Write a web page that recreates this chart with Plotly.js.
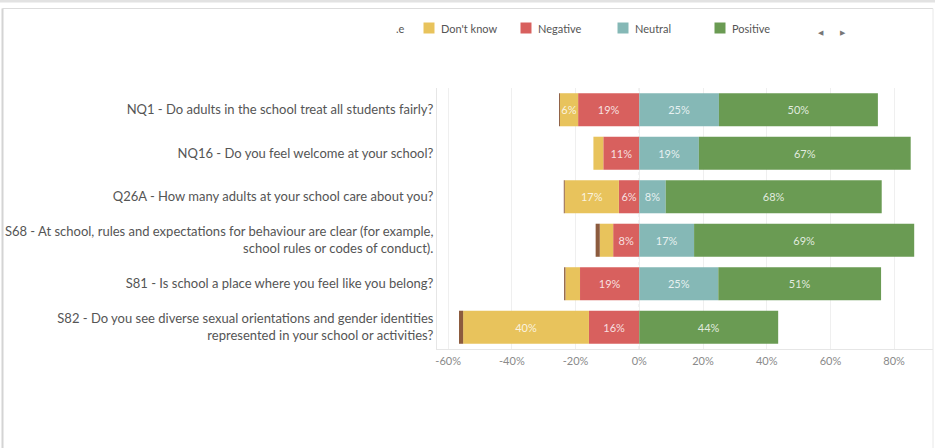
<!DOCTYPE html>
<html><head><meta charset="utf-8">
<script src="https://cdn.plot.ly/plotly-3.0.1.min.js"></script>
<style>html,body{margin:0;padding:0;background:#fff;} #chart{width:935px;height:448px;}</style>
</head><body><div id="chart"></div>
<script>
// ---- data ----
const categories = [
  "NQ1 - Do adults in the school treat all students fairly?",
  "NQ16 - Do you feel welcome at your school?",
  "Q26A - How many adults at your school care about you?",
  "S68 - At school, rules and expectations for behaviour are clear (for example,<br>school rules or codes of conduct).",
  "S81 - Is school a place where you feel like you belong?",
  "S82 - Do you see diverse sexual orientations and gender identities<br>represented in your school or activities?"
];
const notApplicable = [0.3, 0, 0.3, 1.3, 0.4, 1.3];
const dontKnow      = [5.7, 3.1, 17.0, 4.2, 4.6, 39.5];
const negative      = [19.2, 11.3, 6.4, 8.2, 18.6, 15.8];
const neutral       = [25.0, 18.7, 8.3, 17.2, 24.8, 0];
const positive      = [49.9, 66.5, 67.8, 69.1, 51.1, 43.6];
const xTickValues = [-60, -40, -20, 0, 20, 40, 60, 80];
const xTickLabels = ["-60%", "-40%", "-20%", "0%", "20%", "40%", "60%", "80%"];
const legendNames  = ["Don't know", "Negative", "Neutral", "Positive"];
const legendColors = ["#E8C35C", "#D8605E", "#85B8B6", "#6A9B53"];
const brownColor = "#8C5B3E";

// ---- helpers ----
const L = 437, R = 933, T = 88, B = 349;
const px = v => (v - L) / (R - L);
const py = v => (B - v) / (B - T);
const lab = arr => arr.map(v => Math.round(v) >= 6 ? Math.round(v) + "%" : "");
const neg = arr => arr.map(v => -v);

function trace(name, vals, color, signed) {
  return {
    type: "bar", orientation: "h", name: name,
    y: categories, x: signed ? neg(vals) : vals,
    marker: {color: color, line: {width: 0}},
    text: lab(vals), textposition: "inside", insidetextanchor: "middle",
    textangle: 0, constraintext: "none",
    textfont: {family: "Lato, sans-serif", size: 11, color: "rgba(255,255,255,0.82)"},
    hoverinfo: "skip", showlegend: false
  };
}

const data = [
  trace("Negative", negative, legendColors[1], true),
  trace("Don't know", dontKnow, legendColors[0], true),
  trace("Not applicable", notApplicable, brownColor, true),
  trace("Neutral", neutral, legendColors[2], false),
  trace("Positive", positive, legendColors[3], false)
];

const shapes = [
  {type: "rect", xref: "paper", yref: "paper", x0: px(0), x1: px(935), y0: py(0), y1: py(2.5), fillcolor: "#e2e2e2", line: {width: 0}, layer: "below"},
  {type: "line", xref: "paper", yref: "paper", x0: px(2.5), x1: px(933), y0: py(8.5), y1: py(8.5), line: {color: "#dcdcdc", width: 1}},
  {type: "line", xref: "paper", yref: "paper", x0: px(2.5), x1: px(2.5), y0: py(8.5), y1: py(448), line: {color: "#d4d4d4", width: 2}},
  {type: "line", xref: "paper", yref: "paper", x0: px(933), x1: px(933), y0: py(8.5), y1: py(448), line: {color: "#e8e8e8", width: 1}},
  {type: "line", xref: "x", yref: "paper", x0: 0, x1: 0, y0: 0, y1: 1, line: {color: "#c8c8c8", width: 1, dash: "dot"}, layer: "below"}
];
const annotations = [];
legendNames.forEach((n, i) => {
  const x0 = 423.5 + i * 97;
  shapes.push({type: "rect", xref: "paper", yref: "paper", x0: px(x0), x1: px(x0 + 11), y0: py(33.5), y1: py(22.5), fillcolor: legendColors[i], line: {width: 0}});
  annotations.push({xref: "paper", yref: "paper", x: px(x0 + 15.5), y: py(28), text: n, showarrow: false, xanchor: "left", yanchor: "middle", font: {family: "Lato, sans-serif", size: 11, color: "#555"}});
});
annotations.push({xref: "paper", yref: "paper", x: px(407), y: py(28), text: ".e", showarrow: false, xanchor: "right", yanchor: "middle", font: {family: "Lato, sans-serif", size: 11, color: "#555"}});
annotations.push({xref: "paper", yref: "paper", x: px(820.5), y: py(32), text: "◀", showarrow: false, xanchor: "center", yanchor: "middle", font: {size: 7, color: "#777"}});
annotations.push({xref: "paper", yref: "paper", x: px(842.5), y: py(32), text: "▶", showarrow: false, xanchor: "center", yanchor: "middle", font: {size: 7, color: "#777"}});

const layout = {
  width: 935, height: 448,
  margin: {l: L, r: 935 - R, t: T, b: 448 - B, pad: 0},
  paper_bgcolor: "#fff", plot_bgcolor: "#fff",
  barmode: "relative", bargap: 0.24,
  font: {family: "Lato, sans-serif", color: "#555"},
  xaxis: {
    range: [-63.5, 92.2], tickvals: xTickValues, ticktext: xTickLabels,
    showgrid: true, gridcolor: "#efefef", gridwidth: 1, zeroline: false,
    showline: true, linecolor: "#e6e6e6", linewidth: 1, ticklabelstandoff: 2,
    ticks: "", tickfont: {family: "Lato, sans-serif", size: 11, color: "#8a8a8a"}, fixedrange: true
  },
  yaxis: {
    autorange: "reversed", showgrid: false, zeroline: false,
    showline: true, linecolor: "#e6e6e6", linewidth: 1,
    ticks: "", tickfont: {family: "Lato, sans-serif", size: 13, color: "#555"}, fixedrange: true
  },
  shapes: shapes, annotations: annotations, showlegend: false
};

Plotly.newPlot("chart", data, layout, {displayModeBar: false, staticPlot: true});
</script>
</body></html>
